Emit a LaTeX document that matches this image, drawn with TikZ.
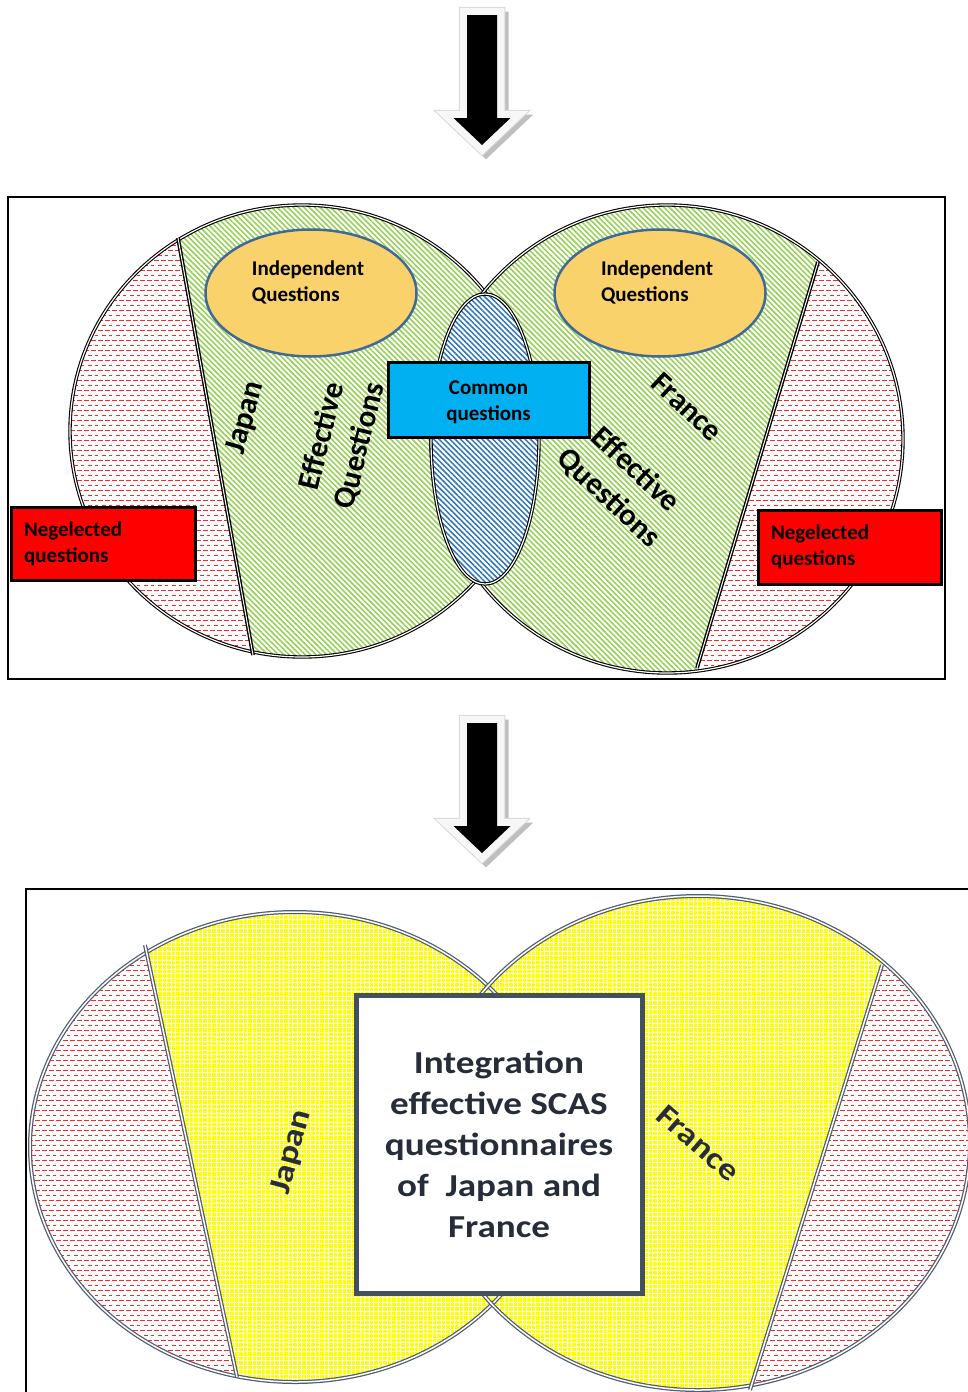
\documentclass[tikz,border=0pt]{standalone}
\usepackage{fontspec}
\setmainfont{Carlito}
\newfontfamily\widefont[FakeStretch=1.16]{Carlito}
\usetikzlibrary{patterns,patterns.meta,shapes.geometric}

% short red dashes for the neglected parts, rows staggered
\pgfdeclarepatternformonly{negdash}{\pgfqpoint{-1pt}{-1pt}}{\pgfqpoint{15pt}{11pt}}{\pgfqpoint{14pt}{10pt}}{%
  \pgfsetlinewidth{0.9pt}%
  \pgfpathmoveto{\pgfqpoint{0pt}{2pt}}\pgfpathlineto{\pgfqpoint{4.5pt}{2pt}}%
  \pgfpathmoveto{\pgfqpoint{7pt}{2pt}}\pgfpathlineto{\pgfqpoint{11.5pt}{2pt}}%
  \pgfpathmoveto{\pgfqpoint{3.5pt}{7pt}}\pgfpathlineto{\pgfqpoint{8pt}{7pt}}%
  \pgfpathmoveto{\pgfqpoint{10.5pt}{7pt}}\pgfpathlineto{\pgfqpoint{14pt}{7pt}}%
  \pgfusepath{stroke}}

\definecolor{hatchgreen}{RGB}{146,208,80}
\definecolor{hatchblue}{RGB}{46,117,182}
\definecolor{negred}{RGB}{255,40,40}
\definecolor{indepfill}{RGB}{250,210,108}
\definecolor{indepedge}{RGB}{65,105,150}
\definecolor{commonfill}{RGB}{0,176,240}
\definecolor{slate}{RGB}{80,92,108}
\definecolor{boxedge}{RGB}{68,80,96}
\definecolor{boxtext}{RGB}{38,45,56}
\definecolor{integyellow}{RGB}{255,255,0}

\tikzset{
  downarrow/.pic={
    \begin{scope}[shift={(4,4)}]
      \draw[gray!50, fill=gray!50, line width=15pt, line join=miter, miter limit=10]
        (-15,0) -- (15,0) -- (15,103) -- (28.5,103) -- (0,130) -- (-28.5,103) -- (-15,103) -- cycle;
    \end{scope}
    \draw[gray!30, line width=16.5pt, line join=miter, miter limit=10]
      (-15,0) -- (15,0) -- (15,103) -- (28.5,103) -- (0,130) -- (-28.5,103) -- (-15,103) -- cycle;
    \draw[gray!6, line width=14.5pt, line join=miter, miter limit=10]
      (-15,0) -- (15,0) -- (15,103) -- (28.5,103) -- (0,130) -- (-28.5,103) -- (-15,103) -- cycle;
    \fill[black]
      (-15,0) -- (15,0) -- (15,103) -- (28.5,103) -- (0,130) -- (-28.5,103) -- (-15,103) -- cycle;
  },
  neglect/.style={fill=white, postaction={pattern=negdash, pattern color=negred}},
  greenhatch/.style={fill=white,
    postaction={pattern={Lines[angle=-45,distance=3.8pt,line width=1.5pt]}, pattern color=hatchgreen}},
  bluehatch/.style={fill=white,
    postaction={pattern={Lines[angle=-45,distance=3.8pt,line width=1.5pt]}, pattern color=hatchblue}},
  yellowdots/.style={fill=integyellow,
    postaction={pattern={Hatch[angle=0,distance=4.5pt,line width=0.8pt]}, pattern color=white}},
  ringA/.style={draw=black, line width=1.1pt, double=white, double distance=1.2pt},
  boldA/.style={draw=black, line width=1.4pt, double=white, double distance=1pt},
  ringB/.style={draw=slate, line width=1.25pt, double=white, double distance=1.5pt},
  smalltext/.style={font=\fontsize{21}{26}\selectfont\bfseries},
  indep/.style={ellipse, draw=indepedge, line width=2.5pt, fill=indepfill,
    minimum width=211pt, minimum height=127pt},
  labelbox/.style={rectangle, draw=black, line width=3pt, smalltext},
  rottext/.style={font=\fontsize{31}{39}\selectfont\bfseries, align=center},
  widetext/.style={font=\widefont\fontsize{31}{39}\selectfont\bfseries, text=boxtext, align=center},
}

\begin{document}
\begin{tikzpicture}[x=1pt,y=-1pt]
\useasboundingbox (0,0) rectangle (968,1392);
\clip (0,0) rectangle (968,1392);

% ---------- arrows ----------
\pic (arrowA) at (482,15) {downarrow};
\pic (arrowB) at (482,723) {downarrow};

% ---------- first panel: two questionnaires ----------
\draw[line width=1.5pt] (8,197) rectangle (945,679);

\coordinate (JC) at (302,431);
\coordinate (FC) at (667,439);
\coordinate (jtop) at (178,238);
\coordinate (jbot) at (253,655);
\coordinate (ftop) at (818,262);
\coordinate (fbot) at (697,668);

\path[neglect] (JC) ellipse [x radius=232, y radius=226];
\path[neglect] (FC) ellipse [x radius=236, y radius=234];
\begin{scope}
  \clip (JC) ellipse [x radius=232, y radius=226];
  \path[greenhatch] (167.6,180) -- (261,700) -- (620,700) -- (620,180) -- cycle;
\end{scope}
\begin{scope}
  \clip (FC) ellipse [x radius=236, y radius=234];
  \path[greenhatch] (842.4,180) -- (684.5,710) -- (380,710) -- (380,180) -- cycle;
\end{scope}
\draw[ringA] (JC) ellipse [x radius=232, y radius=226];
\draw[ringA] (FC) ellipse [x radius=236, y radius=234];
\draw[boldA] (jtop) -- (jbot);
\draw[boldA] (ftop) -- (fbot);

% common part
\coordinate (LC) at (485,439);
\path[bluehatch] (LC) ellipse [x radius=54, y radius=145];
\draw[ringA] (LC) ellipse [x radius=54, y radius=145];

\node[indep] (indJ) at (311,293) {};
\node[indep] (indF) at (660,293) {};
\node[smalltext, align=left] (indJtext) at (308,282) {Independent\\Questions};
\node[smalltext, align=left] (indFtext) at (657,282) {Independent\\Questions};

\node[labelbox, fill=commonfill, minimum width=201pt, minimum height=75pt] (common) at (488.5,399.5) {};
\node[smalltext, align=center] (commontext) at (488.5,402.5) {Common\\questions};
\node[labelbox, fill=red, text width=158pt, inner xsep=13pt, minimum height=73pt, align=left]
  (negJ) at (103,543.5) {Negelected\\questions};
\node[labelbox, fill=red, text width=157pt, inner xsep=13pt, minimum height=74pt, align=left]
  (negF) at (849.5,547) {Negelected\\questions};

\node[rottext, rotate=74] (japanA) at (246,418) {Japan};
\node[rottext, rotate=76] (effJ) at (341,441) {Effective\\Questions};
\node[rottext, rotate=-43] (franceA) at (687,407) {France};
\node[rottext, rotate=-43] (effF) at (622,484) {Effective\\Questions};

% ---------- second panel: integration ----------
\draw[line width=1.5pt] (26,1400) -- (26,889) -- (980,889);

\coordinate (JC2) at (295,1147);
\coordinate (FC2) at (698,1143);
\coordinate (jtop2) at (145,945);
\coordinate (jbot2) at (237,1377);
\coordinate (ftop2) at (882,965);
\coordinate (fbot2) at (750,1390);

\path[neglect] (JC2) ellipse [x radius=265, y radius=235];
\path[neglect] (FC2) ellipse [x radius=272, y radius=247];
\begin{scope}
  \clip (JC2) ellipse [x radius=265, y radius=235];
  \path[yellowdots] (131.2,880) -- (246.2,1420) -- (620,1420) -- (620,880) -- cycle;
\end{scope}
\begin{scope}
  \clip (FC2) ellipse [x radius=272, y radius=247];
  \path[yellowdots] (908.4,880) -- (740.7,1420) -- (380,1420) -- (380,880) -- cycle;
\end{scope}
\draw[ringB] (JC2) ellipse [x radius=265, y radius=235];
\draw[ringB] (FC2) ellipse [x radius=272, y radius=247];
\draw[ringB] (jtop2) -- (jbot2);
\draw[ringB] (ftop2) -- (fbot2);

\node[rectangle, draw=boxedge, line width=5pt, fill=white, minimum width=286pt, minimum height=298pt,
  align=center, text=boxtext, font=\widefont\fontsize{32}{41}\selectfont\bfseries]
  (integ) at (499,1144) {Integration\\effective SCAS\\questionnaires\\of~ Japan and\\France};

\node[widetext, rotate=75] (japanB) at (292,1152) {Japan};
\node[widetext, rotate=-41] (franceB) at (698,1143) {France};
\end{tikzpicture}
\end{document}
